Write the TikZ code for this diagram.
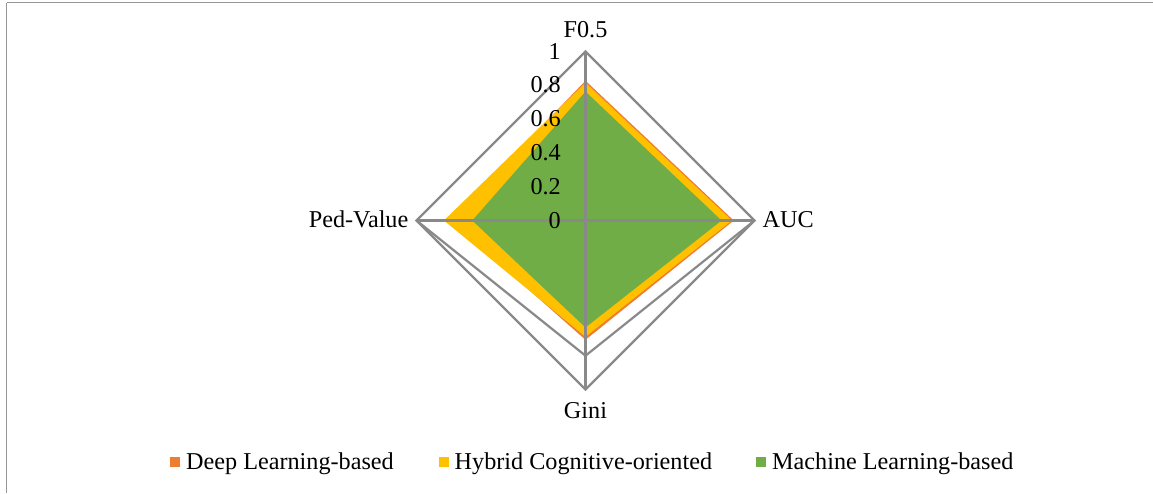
\documentclass[tikz,border=0pt]{standalone}
\usepackage{fontspec}
\setmainfont{Liberation Serif}
\begin{document}
\begin{tikzpicture}[x=1pt,y=-1pt,
  lbl/.style={font=\fontsize{24.2}{27}\selectfont,inner sep=0pt},
  grid/.style={draw=axisgray,line width=2.2pt,line join=miter},
  frame/.style={draw=framegray,line width=1.6pt},
  swatch/.style={minimum width=10pt,minimum height=10pt,inner sep=0pt,draw=none}]
\definecolor{axisgray}{RGB}{137,137,137}
\definecolor{framegray}{RGB}{150,150,150}
\definecolor{dlorange}{RGB}{237,125,49}
\definecolor{hcyellow}{RGB}{255,192,0}
\definecolor{mlgreen}{RGB}{112,173,71}
\useasboundingbox (0,0) rectangle (1153,493);
% chart frame (top and left edges)
\draw[frame] (6.5,2.5) -- (1153,2.5);
\draw[frame] (6.5,2.5) -- (6.5,493);
% radar geometry
\def\cx{585.5}\def\cy{220.5}\def\R{169}
\coordinate (O) at (\cx,\cy);
\coordinate (T) at (\cx,\cy-\R);
\coordinate (Rt) at (\cx+\R,\cy);
\coordinate (B) at (\cx,\cy+\R);
\coordinate (L) at (\cx-\R,\cy);
\coordinate (Bi) at (\cx,\cy+0.8*\R);
% series: F0.5 (top), AUC (right), Gini (bottom), Ped-Value (left)
\fill[dlorange] (\cx,\cy-0.827*\R) -- (\cx+0.877*\R,\cy) -- (\cx,\cy+0.706*\R) -- (\cx-0.80*\R,\cy) -- cycle;
\fill[hcyellow] (\cx,\cy-0.815*\R) -- (\cx+0.866*\R,\cy) -- (\cx,\cy+0.688*\R) -- (\cx-0.838*\R,\cy) -- cycle;
\fill[mlgreen] (\cx,\cy-0.763*\R) -- (\cx+0.805*\R,\cy) -- (\cx,\cy+0.633*\R) -- (\cx-0.670*\R,\cy) -- cycle;
% grid and axes
\draw[grid] (T) -- (Rt) -- (B) -- (L) -- cycle;
\draw[grid] (L) -- (Bi) -- (Rt);
\draw[grid] (T) -- (B);
\draw[grid] (L) -- (Rt);
% tick labels
\foreach \v/\t in {0/0,1/0.2,2/0.4,3/0.6,4/0.8,5/1}
  \node[lbl,anchor=base east] (tick\v) at (561,228.3-33.85*\v) {\t};
% axis labels
\node[lbl,anchor=base] (fhalf) at (585.5,37.3) {F0.5};
\node[lbl,anchor=base west] (auc) at (762.5,227.5) {AUC};
\node[lbl,anchor=base] (gini) at (585.5,418) {Gini};
\node[lbl,anchor=base east] (ped) at (408.5,227.5) {Ped-Value};
% legend
\node[swatch,fill=dlorange] (sw1) at (174.5,462) {};
\node[lbl,anchor=base west] (lg1) at (186,469.5) {Deep Learning-based};
\node[swatch,fill=hcyellow] (sw2) at (443.5,462) {};
\node[lbl,anchor=base west] (lg2) at (454.5,469.5) {Hybrid Cognitive-oriented};
\node[swatch,fill=mlgreen] (sw3) at (760.5,462) {};
\node[lbl,anchor=base west] (lg3) at (772,469.5) {Machine Learning-based};
\end{tikzpicture}
\end{document}
